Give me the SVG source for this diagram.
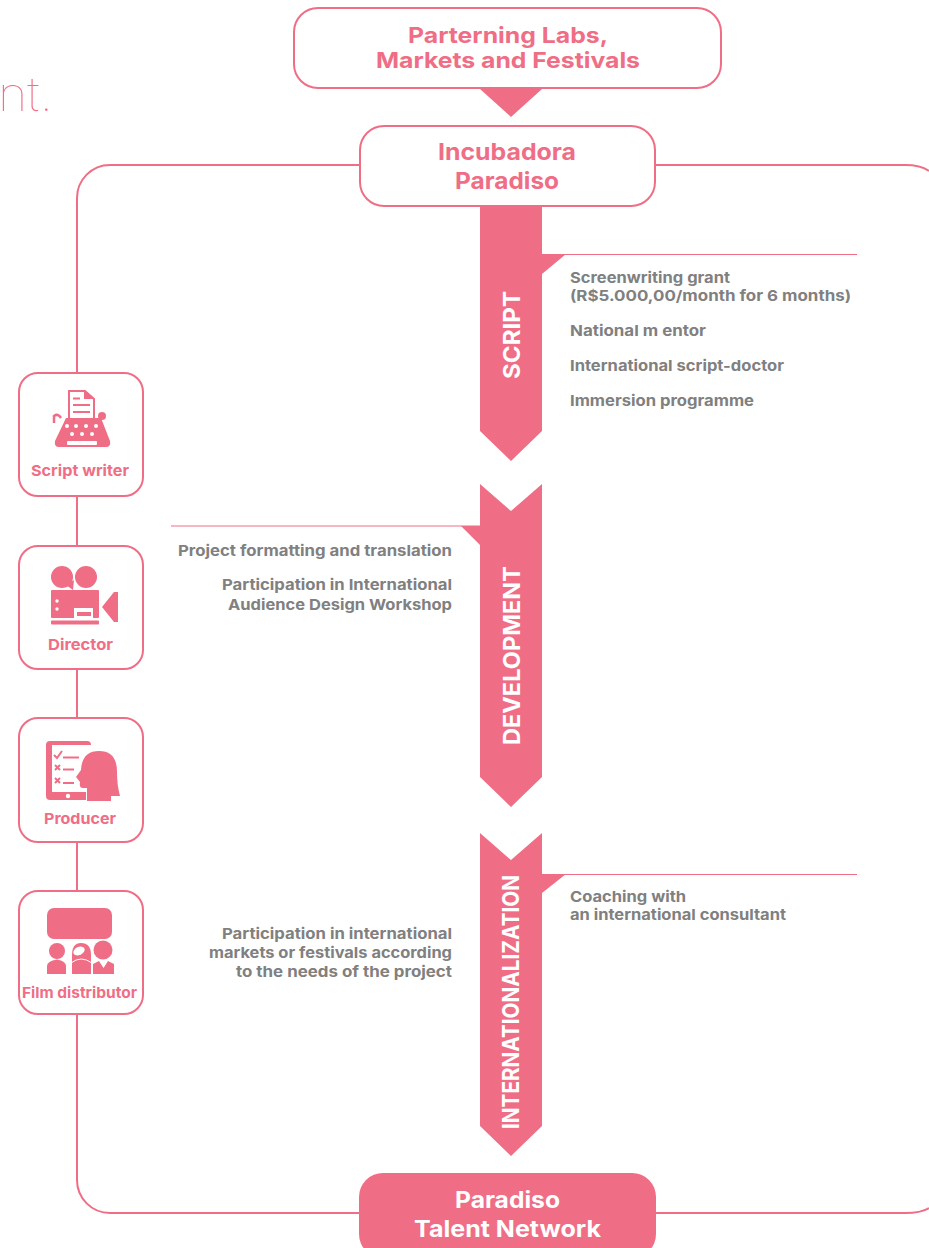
<svg xmlns="http://www.w3.org/2000/svg" width="929" height="1248" viewBox="0 0 929 1248">
<style>
text{font-family:"Inter","Liberation Sans",sans-serif;font-weight:700}
.box{fill:#fff;stroke:#ef6e85;stroke-width:2}
.f{fill:#ef6e85}
.w{fill:#fff}
.line{fill:none;stroke:#ef6e85;stroke-width:2}
.thin{fill:none;stroke:#ef6e85;stroke-width:1}
.ic{fill:none;stroke:#ef6e85;stroke-width:2}
.h{fill:#ef6e85;font-size:23px}
.c{fill:#ef6e85;font-size:15px}
.g{fill:#808080;font-size:15px}
.v{fill:#fff;font-size:23px}
</style>
<text x="-2" y="111" textLength="55" lengthAdjust="spacingAndGlyphs" style="font-weight:100;font-size:47px;fill:#ef6e85">nt.</text>
<g id="connectors">
<path class="line" d="M360 165H110a33 33 0 0 0-33 33V1180a33 33 0 0 0 33 33H360"/>
<path class="line" d="M655 165H905q16 0 24 6M655 1213H905q16 0 24-5"/>
<path class="thin" d="M542 254.500H857M171 526H480M542 874.500H857"/>
</g>
<g id="parterning">
<rect class="box" x="294" y="8" width="427" height="80" rx="24"/>
<path class="f" d="M480 89H542L511 117Z"/>
<text class="h" style="font-size:22px" x="408" y="43" textLength="200" lengthAdjust="spacingAndGlyphs">Parterning Labs,</text>
<text class="h" style="font-size:22px" x="376" y="68" textLength="264" lengthAdjust="spacingAndGlyphs">Markets and Festivals</text>
</g>
<g id="incubadora">
<rect class="box" x="360" y="126" width="295" height="80" rx="24"/>
<text class="h" x="438" y="160" textLength="138" lengthAdjust="spacingAndGlyphs">Incubadora</text>
<text class="h" x="455" y="189" textLength="104" lengthAdjust="spacingAndGlyphs">Paradiso</text>
</g>
<g id="script">
<path class="f" d="M480 207H542V254H566L542 274V431L511 461L480 431Z"/>
<text class="v" transform="translate(520 379) rotate(-90)" textLength="88" lengthAdjust="spacingAndGlyphs">SCRIPT</text>
<text class="g" x="570" y="283" textLength="160" lengthAdjust="spacingAndGlyphs">Screenwriting grant</text>
<text class="g" x="570" y="301" textLength="281" lengthAdjust="spacingAndGlyphs">(R$5.000,00/month for 6 months)</text>
<text class="g" x="570" y="336" textLength="136" lengthAdjust="spacingAndGlyphs">National m entor</text>
<text class="g" x="570" y="371" textLength="214" lengthAdjust="spacingAndGlyphs">International script-doctor</text>
<text class="g" x="570" y="406" textLength="184" lengthAdjust="spacingAndGlyphs">Immersion programme</text>
</g>
<g id="development">
<path class="f" d="M480 484L511 511L542 484V777L511 807L480 777V545L461 526H480Z"/>
<text class="v" transform="translate(520 745) rotate(-90)" textLength="179" lengthAdjust="spacingAndGlyphs">DEVELOPMENT</text>
<text class="g" x="178" y="556" textLength="274" lengthAdjust="spacingAndGlyphs">Project formatting and translation</text>
<text class="g" x="222" y="590" textLength="230" lengthAdjust="spacingAndGlyphs">Participation in International</text>
<text class="g" x="228" y="610" textLength="224" lengthAdjust="spacingAndGlyphs">Audience Design Workshop</text>
</g>
<g id="internationalization">
<path class="f" d="M480 833L511 860L542 833V874H566L542 893V1126L511 1156L480 1126Z"/>
<text class="v" transform="translate(519 1129) rotate(-90)" textLength="254" lengthAdjust="spacingAndGlyphs">INTERNATIONALIZATION</text>
<text class="g" x="570" y="902" textLength="116" lengthAdjust="spacingAndGlyphs">Coaching with</text>
<text class="g" x="570" y="920" textLength="216" lengthAdjust="spacingAndGlyphs">an international consultant</text>
<text class="g" x="222" y="939" textLength="230" lengthAdjust="spacingAndGlyphs">Participation in international</text>
<text class="g" x="209" y="958" textLength="243" lengthAdjust="spacingAndGlyphs">markets or festivals according</text>
<text class="g" x="236" y="977" textLength="216" lengthAdjust="spacingAndGlyphs">to the needs of the project</text>
</g>
<g id="talent">
<rect class="f" x="359" y="1173" width="297" height="85" rx="24"/>
<text class="h" style="fill:#fff" x="455" y="1208" textLength="105" lengthAdjust="spacingAndGlyphs">Paradiso</text>
<text class="h" style="fill:#fff" x="414" y="1237" textLength="187" lengthAdjust="spacingAndGlyphs">Talent Network</text>
</g>
<g id="script-writer">
<rect class="box" x="19" y="373" width="124" height="123" rx="19"/>
<path class="ic" style="fill:#fff" d="M69 422V391H85L94 399V422"/>
<path class="f" d="M84 390L95 399H84Z"/>
<path class="ic" d="M73 398.500H80M73 405H90M73 412H90"/>
<path class="f" d="M66 418H101L110 441Q111 447 106 447H59Q54 447 55 441Z"/>
<path class="ic" style="stroke-width:2.500" d="M54 423V416Q58 413 61 418"/>
<circle class="f" cx="102" cy="416" r="4"/>
<g class="w"><circle cx="67" cy="426" r="2"/><circle cx="76" cy="426" r="2"/><circle cx="86" cy="426" r="2"/><circle cx="96" cy="426" r="2"/><circle cx="72" cy="434" r="2"/><circle cx="82" cy="434" r="2"/><circle cx="92" cy="434" r="2"/><rect x="67" y="441" width="30" height="4" rx="1"/></g>
<text class="c" x="31" y="476" textLength="98" lengthAdjust="spacingAndGlyphs">Script writer</text>
</g>
<g id="director">
<rect class="box" x="19" y="546" width="124" height="123" rx="19"/>
<circle class="f" cx="62" cy="577" r="11"/><circle class="f" cx="86" cy="577" r="11"/>
<path class="f" d="M66 585L74 580L73 590Z"/>
<rect class="f" x="51" y="590" width="48" height="28" rx="1"/>
<rect class="f" x="51" y="620.500" width="48" height="4" rx="1"/>
<path class="f" d="M102 607L114 592H118V622H114Z"/>
<g class="w"><circle cx="57" cy="601" r="1.700"/><circle cx="57" cy="609" r="1.700"/><path d="M74 608H93V619H74Z"/></g>
<rect class="f" x="77" y="612" width="14" height="4"/>
<text class="c" x="48" y="650" textLength="65" lengthAdjust="spacingAndGlyphs">Director</text>
</g>
<g id="producer">
<rect class="box" x="19" y="718" width="124" height="124" rx="19"/>
<rect class="f" x="46" y="741" width="45" height="59" rx="4"/>
<rect class="w" x="52" y="745" width="39" height="47"/>
<circle class="w" cx="68" cy="796" r="2.200"/>
<path class="ic" d="M54 755L57 758L62 751M63 757.500H79M55 765L60 770M60 765L55 770M63 769.500H74M55 778L60 783M60 778L55 783M63 783H74"/>
<path class="f" stroke="#fff" stroke-width="2" paint-order="stroke" d="M87 801V788H83Q79 788 80 782L76 777L81 770Q82 751 99 751Q117 751 117 772Q117 785 120 796H111V801Z"/>
<text class="c" x="44" y="824" textLength="72" lengthAdjust="spacingAndGlyphs">Producer</text>
</g>
<g id="film-distributor">
<rect class="box" x="19" y="891" width="124" height="123" rx="19"/>
<rect class="f" x="47" y="908" width="65" height="31" rx="7"/>
<circle class="f" cx="57" cy="951" r="8"/>
<path class="f" d="M47 974V966Q47 961 57 959.500Q66 961 66 966V974Z"/>
<path class="f" d="M72 974V955Q72 943 81 943Q91 943 91 955V974Z"/>
<ellipse class="w" cx="79" cy="951" rx="6" ry="4" transform="rotate(-25 79 951)"/>
<path fill="none" stroke="#fff" stroke-width="1" d="M71 963Q81 955 92 963"/>
<circle class="f" cx="103" cy="950" r="9.500"/>
<path class="f" d="M93 974V964L99 961L103.500 968L108 961L114 964V974Z"/>
<text class="c" x="22" y="998" textLength="115" lengthAdjust="spacingAndGlyphs">Film distributor</text>
</g>
</svg>
